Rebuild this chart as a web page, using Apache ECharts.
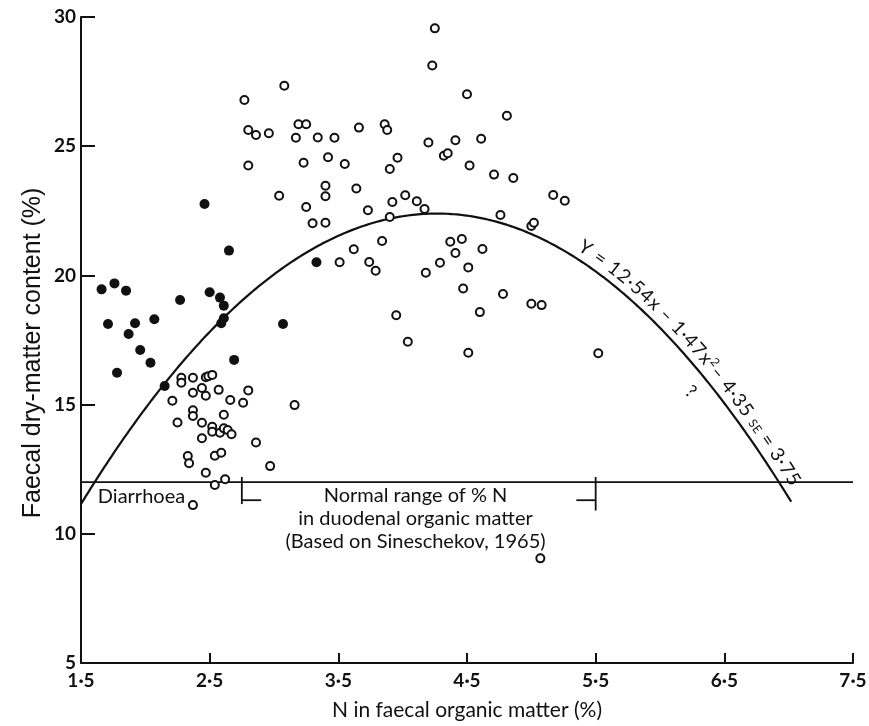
<!DOCTYPE html>
<html>
<head>
<meta charset="utf-8">
<title>Faecal dry matter vs faecal N</title>
<script src="https://cdn.jsdelivr.net/npm/echarts@6/dist/echarts.min.js"></script>
<style>
  html, body { margin: 0; padding: 0; background: #fff; }
  #chart { width: 869px; height: 726px; }
</style>
</head>
<body>
<div id="chart"></div>
<script>
// N in faecal organic matter (%) against faecal dry-matter content (%)

// Animals with diarrhoea (filled circles): [N %, DM %]
const diarrhoeaPoints = [
  [1.66, 19.46], [1.76, 19.69], [1.85, 19.41], [1.71, 18.12], [1.92, 18.15],
  [1.87, 17.73], [2.07, 18.30], [1.96, 17.11], [2.04, 16.62], [1.78, 16.23],
  [2.27, 19.05], [2.50, 19.35], [2.58, 19.14], [2.61, 18.83], [2.61, 18.34],
  [2.59, 18.15], [2.69, 16.73], [2.15, 15.72], [2.65, 20.96], [3.33, 20.51],
  [3.07, 18.12], [2.46, 22.76]
];

// Other animals, low-N group (open circles)
const lowNPoints = [
  [2.28, 16.04], [2.28, 15.85], [2.37, 16.04], [2.47, 16.06], [2.49, 16.10],
  [2.52, 16.15], [2.37, 15.46], [2.44, 15.64], [2.47, 15.34], [2.57, 15.57],
  [2.66, 15.18], [2.76, 15.07], [2.80, 15.55], [2.21, 15.15], [2.37, 14.78],
  [2.37, 14.56], [2.25, 14.31], [2.44, 14.30], [2.61, 14.61], [2.52, 14.14],
  [2.52, 13.95], [2.58, 13.91], [2.61, 14.08], [2.64, 14.02], [2.67, 13.85],
  [2.44, 13.70], [2.86, 13.53], [2.33, 13.01], [2.34, 12.73], [2.54, 13.02],
  [2.59, 13.14], [2.47, 12.36], [2.97, 12.62], [2.54, 11.89], [2.62, 12.11],
  [2.37, 11.11], [3.16, 14.98]
];

// Other animals, mid-N group (open circles)
const midNPoints = [
  [3.08, 27.34], [2.77, 26.79], [2.80, 25.63], [2.86, 25.43], [2.96, 25.50],
  [3.19, 25.85], [3.25, 25.85], [3.17, 25.33], [3.34, 25.34], [3.47, 25.33],
  [3.66, 25.72], [3.86, 25.85], [3.88, 25.63], [4.20, 25.14], [2.80, 24.25],
  [3.23, 24.36], [3.42, 24.57], [3.55, 24.31], [3.96, 24.55], [3.90, 24.12],
  [3.04, 23.08], [3.40, 23.47], [3.40, 23.06], [3.64, 23.36], [3.25, 22.65],
  [3.73, 22.52], [3.92, 22.84], [4.02, 23.10], [4.11, 22.87], [4.17, 22.57],
  [3.90, 22.26], [3.30, 22.02], [3.40, 22.04], [3.62, 21.01], [3.84, 21.33],
  [3.51, 20.51], [3.74, 20.52], [3.79, 20.18], [4.18, 20.10], [4.29, 20.49]
];

// Other animals, high-N group (open circles)
const highNPoints = [
  [4.25, 29.56], [4.23, 28.12], [4.50, 27.01], [4.81, 26.18], [4.41, 25.23],
  [4.61, 25.29], [4.32, 24.63], [4.35, 24.73], [4.52, 24.25], [4.71, 23.90],
  [4.86, 23.77], [5.17, 23.11], [5.26, 22.89], [4.76, 22.34], [5.00, 21.91],
  [5.02, 22.04], [4.37, 21.30], [4.46, 21.41], [4.41, 20.87], [4.62, 21.02],
  [4.51, 20.31], [4.47, 19.49], [4.78, 19.28], [5.00, 18.90], [5.08, 18.85],
  [4.60, 18.58], [4.04, 17.43], [4.51, 17.01], [5.52, 16.99], [3.95, 18.46],
  [5.07, 9.05]
];

// Fitted regression as printed on the curve: Y = 12.54x - 1.47x^2 - 4.35
const fitCoef = [12.54, -1.47, -4.35];
const fitRange = [1.5, 7.02];

// Diarrhoea threshold and normal duodenal %N range (Sineschekov, 1965)
const dmThreshold = 12;
const normalRange = [2.75, 5.5];

// Axes
const xRange = [1.5, 7.5];
const yRange = [5, 30];

const ink = '#111';
const fitY = x => fitCoef[0] * x + fitCoef[1] * x * x + fitCoef[2];
const fitLine = [];
for (let i = 0; ; i++) {
  const x = fitRange[0] + i * 0.02;
  if (x > fitRange[1] + 1e-9) break;
  fitLine.push([x, fitY(x)]);
}

const plainLine = (data, width) => ({
  type: 'line', data, showSymbol: false, silent: true,
  lineStyle: { color: ink, width }, z: 2
});

const rangeMarks = [];
normalRange.forEach((n, i) => {
  const dir = i === 0 ? 1 : -1;
  rangeMarks.push(plainLine([[n, 12.2], [n, i === 0 ? 11.15 : 10.9]], 1.8));
  rangeMarks.push(plainLine([[n, 11.3], [n + dir * 0.15, 11.3]], 1.8));
});

const chart = echarts.init(document.getElementById('chart'));
chart.setOption({
  animation: false,
  backgroundColor: '#fff',
  grid: { left: 81, right: 16, top: 17, bottom: 63, containLabel: false, outerBoundsMode: 'none' },
  xAxis: {
    type: 'value', min: xRange[0], max: xRange[1], interval: 1,
    axisLine: { show: true, lineStyle: { color: ink, width: 2 } },
    axisTick: { show: true, inside: true, length: 10, lineStyle: { color: ink, width: 2 } },
    axisLabel: {
      formatter: v => v.toFixed(1).replace('.', '·'),
      fontFamily: 'Lato', fontWeight: 'bold', fontSize: 19, color: ink, margin: 8
    },
    splitLine: { show: false },
    name: 'N in faecal organic matter (%)',
    nameLocation: 'middle', nameGap: 37,
    nameTextStyle: { fontFamily: 'Lato', fontSize: 21, color: ink }
  },
  yAxis: {
    type: 'value', min: yRange[0], max: yRange[1], interval: 5,
    axisLine: { show: true, lineStyle: { color: ink, width: 2 } },
    axisTick: { show: true, inside: true, length: 14, lineStyle: { color: ink, width: 2 } },
    axisLabel: { fontFamily: 'Lato', fontWeight: 'bold', fontSize: 19, color: ink, margin: 5 },
    splitLine: { show: false }
  },
  series: [
    Object.assign(plainLine(fitLine, 2.2), { name: 'fit' }),
    Object.assign(plainLine([[xRange[0], dmThreshold], [xRange[1], dmThreshold]], 1.8), { name: 'threshold' }),
    ...rangeMarks,
    {
      type: 'scatter', name: 'normal', symbol: 'circle', symbolSize: 8,
      data: lowNPoints.concat(midNPoints, highNPoints),
      itemStyle: { color: '#fff', borderColor: ink, borderWidth: 2, opacity: 1 }, z: 4
    },
    {
      type: 'scatter', name: 'diarrhoea', symbol: 'circle', symbolSize: 10,
      data: diarrhoeaPoints,
      itemStyle: { color: ink, opacity: 1 }, z: 5
    }
  ]
});

// ----- annotations -----
const toPx = p => chart.convertToPixel({ gridIndex: 0 }, p);
const textEl = (p, text, font, opts) => {
  opts = opts || {};
  const el = {
    type: 'text', x: p[0], y: p[1], silent: true, z: 10,
    style: Object.assign({
      text, font, fill: ink,
      align: 'center', verticalAlign: 'middle',
      textAlign: 'center', textVerticalAlign: 'middle'
    }, opts.style || {})
  };
  if (opts.rotation !== undefined) el.rotation = opts.rotation;
  return el;
};

const graphics = [];
// y-axis title, centred slightly below the axis midpoint
const yMid = toPx([xRange[0], 17.0]);
graphics.push(textEl([33, yMid[1]], 'Faecal dry-matter content (%)',
  '25px "Liberation Sans"', { rotation: Math.PI / 2 }));
graphics.push(textEl(toPx([1.97, 11.46]), 'Diarrhoea', '20px Lato'));
graphics.push(textEl(toPx([4.1, 10.6]),
  'Normal range of % N\nin duodenal organic matter\n(Based on Sineschekov, 1965)',
  '20px Lato', { style: { lineHeight: 23 } }));
graphics.push(textEl(toPx([6.24, 15.5]), '?', '18px Lato', { rotation: -0.7 }));

// Equation written along the fitted curve
const eqPieces = [
  { text: 'Y = 12·54x – 1·47x', size: 19, rise: 0 },
  { text: '2', size: 12, rise: 8 },
  { text: '– 4·35 ', size: 19, rise: 0 },
  { text: 'SE', size: 12, rise: 1 },
  { text: ' = 3·75', size: 19, rise: 0 }
];
const eqSpan = [5.32, 6.97];
const ctx = document.createElement('canvas').getContext('2d');
const glyphs = [];
eqPieces.forEach(pc => {
  ctx.font = pc.size + 'px Lato';
  for (const ch of pc.text) glyphs.push({ ch, size: pc.size, rise: pc.rise, w: ctx.measureText(ch).width });
});
const totalW = glyphs.reduce((s, g) => s + g.w, 0);
const path = [];
for (let i = 0; i <= 200; i++) {
  const x = eqSpan[0] + (eqSpan[1] - eqSpan[0]) * i / 200;
  path.push(toPx([x, fitY(x)]));
}
const cum = [0];
for (let i = 1; i < path.length; i++) {
  cum.push(cum[i - 1] + Math.hypot(path[i][0] - path[i - 1][0], path[i][1] - path[i - 1][1]));
}
const k = cum[cum.length - 1] / totalW;
let run = 0;
glyphs.forEach(g => {
  const s = (run + g.w / 2) * k;
  run += g.w;
  if (g.ch.trim() === '') return;
  let j = 1;
  while (j < cum.length - 1 && cum[j] < s) j++;
  const a = path[j - 1], b = path[j];
  const t = (s - cum[j - 1]) / (cum[j] - cum[j - 1] || 1);
  const dx = b[0] - a[0], dy = b[1] - a[1], len = Math.hypot(dx, dy) || 1;
  const nx = dy / len, ny = -dx / len;
  const off = 4 + g.rise;
  graphics.push({
    type: 'text',
    x: a[0] + dx * t + nx * off, y: a[1] + dy * t + ny * off,
    rotation: -Math.atan2(dy, dx), silent: true, z: 10,
    style: {
      text: g.ch, font: g.size + 'px Lato', fill: ink,
      align: 'center', verticalAlign: 'bottom',
      textAlign: 'center', textVerticalAlign: 'bottom'
    }
  });
});

chart.setOption({ graphic: { elements: graphics } });
</script>
</body>
</html>
